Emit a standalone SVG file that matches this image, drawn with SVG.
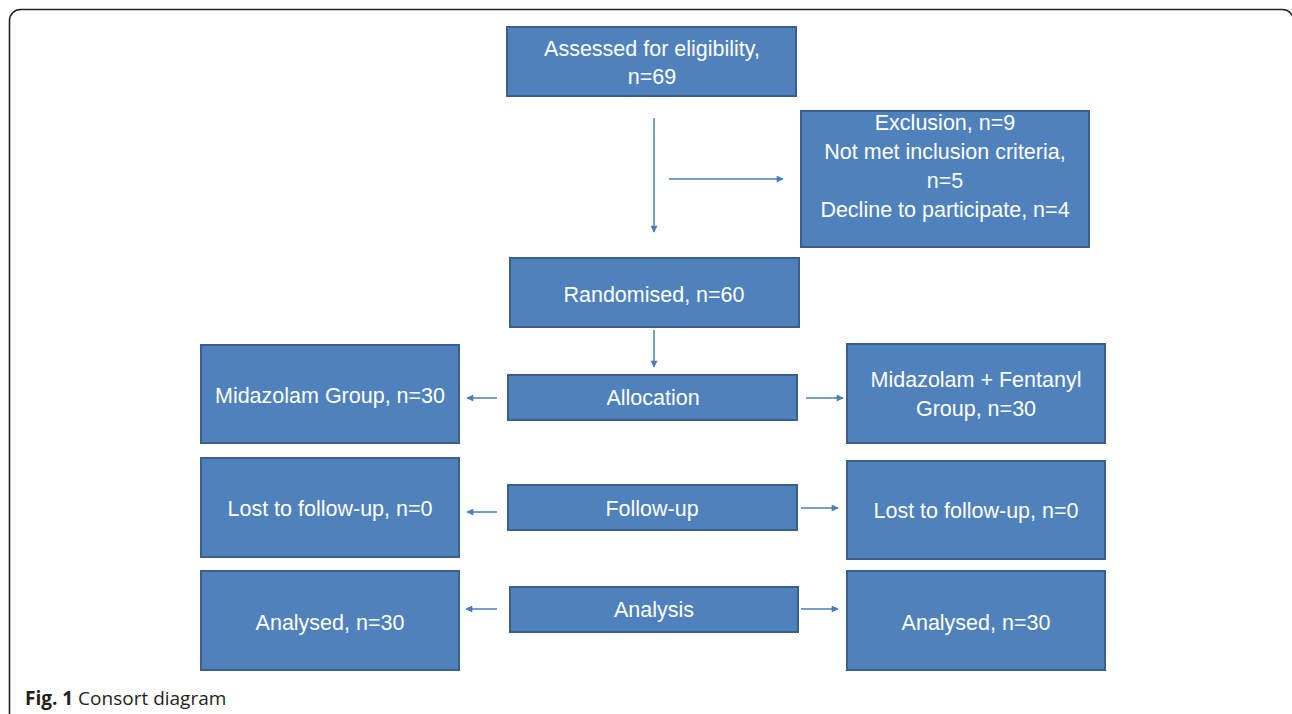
<svg xmlns="http://www.w3.org/2000/svg" width="1292" height="714" viewBox="0 0 1292 714">
  <style>
    .box { fill: #4F81BD; stroke: #3A5F8C; stroke-width: 2; }
    .lbl { font-family: "Liberation Sans", Arial, sans-serif; font-size: 21.5px; fill: #FFFFFF; text-anchor: middle; }
    .conn { stroke: #4A7EBB; stroke-width: 1.5; fill: none; marker-end: url(#ah); }
    .cap { font-family: "Open Sans", "Liberation Sans", sans-serif; font-size: 19px; fill: #231F20; }
  </style>
  <defs>
    <marker id="ah" viewBox="0 0 10 10" refX="9" refY="5" markerWidth="8" markerHeight="7" markerUnits="userSpaceOnUse" orient="auto">
      <path d="M0,0 L10,5 L0,10 z" fill="#4A7EBB"/>
    </marker>
  </defs>
  <rect x="9.5" y="9.5" width="1284" height="740" rx="11" ry="11" fill="#FFFFFF" stroke="#222222" stroke-width="1.6"/>

  <g id="connectors">
    <line class="conn" x1="654" y1="118" x2="654" y2="232"/>
    <line class="conn" x1="669" y1="179" x2="783" y2="179"/>
    <line class="conn" x1="654" y1="330" x2="654" y2="367"/>
    <line class="conn" x1="497" y1="398" x2="467" y2="398"/>
    <line class="conn" x1="806" y1="398" x2="843" y2="398"/>
    <line class="conn" x1="497" y1="512" x2="467" y2="512"/>
    <line class="conn" x1="801" y1="508" x2="838" y2="508"/>
    <line class="conn" x1="497" y1="609" x2="466" y2="609"/>
    <line class="conn" x1="801" y1="609" x2="838" y2="609"/>
  </g>

  <g id="assessed">
    <rect class="box" x="507" y="27" width="289" height="69"/>
    <text class="lbl" x="652" y="56">Assessed for eligibility,</text>
    <text class="lbl" x="652" y="84">n=69</text>
  </g>
  <g id="exclusion">
    <rect class="box" x="801" y="111" width="288" height="136"/>
    <text class="lbl" x="945" y="130">Exclusion, n=9</text>
    <text class="lbl" x="945" y="159">Not met inclusion criteria,</text>
    <text class="lbl" x="945" y="188">n=5</text>
    <text class="lbl" x="945" y="217">Decline to participate, n=4</text>
  </g>
  <g id="randomised">
    <rect class="box" x="510" y="258" width="289" height="69"/>
    <text class="lbl" x="654" y="302">Randomised, n=60</text>
  </g>
  <g id="allocation">
    <rect class="box" x="508" y="375" width="289" height="45"/>
    <text class="lbl" x="653" y="405">Allocation</text>
  </g>
  <g id="midazolam">
    <rect class="box" x="201" y="345" width="258" height="98"/>
    <text class="lbl" x="330" y="403">Midazolam Group, n=30</text>
  </g>
  <g id="midazolam-fentanyl">
    <rect class="box" x="847" y="344" width="258" height="99"/>
    <text class="lbl" x="976" y="387">Midazolam + Fentanyl</text>
    <text class="lbl" x="976" y="416">Group, n=30</text>
  </g>
  <g id="lost-left">
    <rect class="box" x="201" y="458" width="258" height="99"/>
    <text class="lbl" x="330" y="516">Lost to follow-up, n=0</text>
  </g>
  <g id="followup">
    <rect class="box" x="508" y="485" width="289" height="45"/>
    <text class="lbl" x="652" y="516">Follow-up</text>
  </g>
  <g id="lost-right">
    <rect class="box" x="847" y="461" width="258" height="98"/>
    <text class="lbl" x="976" y="518">Lost to follow-up, n=0</text>
  </g>
  <g id="analysed-left">
    <rect class="box" x="201" y="571" width="258" height="99"/>
    <text class="lbl" x="330" y="630">Analysed, n=30</text>
  </g>
  <g id="analysis">
    <rect class="box" x="510" y="587" width="288" height="45"/>
    <text class="lbl" x="654" y="617">Analysis</text>
  </g>
  <g id="analysed-right">
    <rect class="box" x="847" y="571" width="258" height="99"/>
    <text class="lbl" x="976" y="630">Analysed, n=30</text>
  </g>

  <text class="cap" x="25" y="705"><tspan font-weight="bold">Fig. 1</tspan> Consort diagram</text>
</svg>
